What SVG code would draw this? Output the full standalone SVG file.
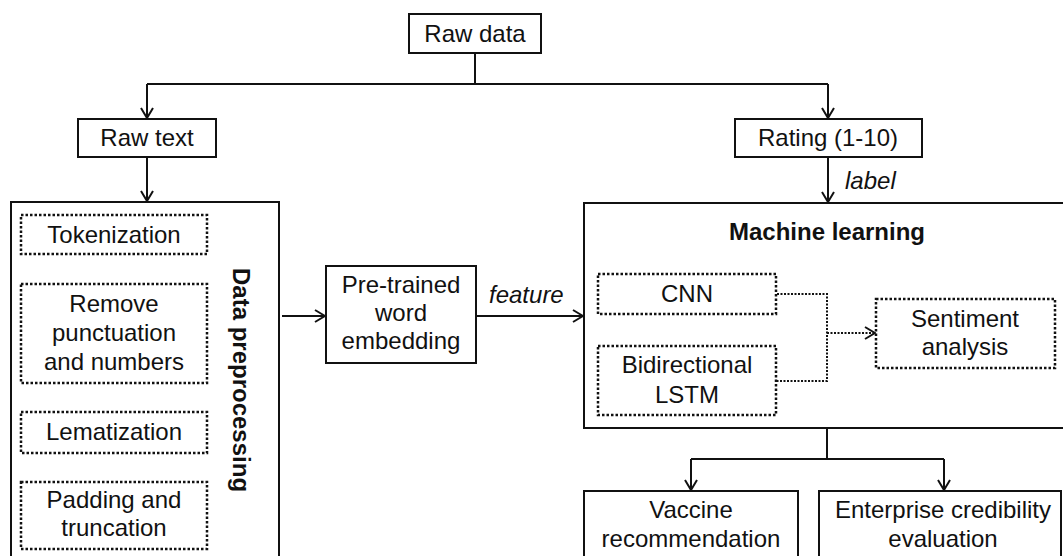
<svg xmlns="http://www.w3.org/2000/svg" width="1063" height="556" viewBox="0 0 1063 556">
  <style>
    text { font-family: "Liberation Sans", Arial, sans-serif; font-size: 24px; fill: #111; text-anchor: middle; }
    .bold { font-weight: bold; }
    .ital { font-style: italic; text-anchor: start; }
    .box { fill: #fff; stroke: #111; stroke-width: 2; }
    .dot { fill: #fff; stroke: #111; stroke-width: 2.5; stroke-dasharray: 2.5 2; }
    .link { fill: none; stroke: #111; stroke-width: 2; }
    .dlink { fill: none; stroke: #111; stroke-width: 2; stroke-dasharray: 2 1.5; }
  </style>
  <defs>
    <marker id="arrow" viewBox="0 0 12 14" refX="11" refY="7" markerWidth="12" markerHeight="14" markerUnits="userSpaceOnUse" orient="auto">
      <path d="M1,1 L11,7 L1,13" fill="none" stroke="#111" stroke-width="2"/>
    </marker>
  </defs>
  <rect width="1063" height="556" fill="#fff"/>

  <g id="raw-data">
    <rect class="box" x="409" y="14" width="132" height="39"/>
    <text x="475" y="42">Raw data</text>
  </g>
  <g id="raw-text">
    <rect class="box" x="78" y="119" width="138" height="38"/>
    <text x="147" y="146">Raw text</text>
  </g>
  <g id="rating">
    <rect class="box" x="735" y="119" width="187" height="38"/>
    <text x="828" y="146">Rating (1-10)</text>
  </g>

  <g id="data-preprocessing">
    <rect class="box" x="11" y="202" width="268" height="370"/>
    <text class="bold" transform="translate(233,380) rotate(90)">Data preprocessing</text>
  </g>
  <g id="tokenization">
    <rect class="dot" x="21" y="215" width="186" height="39"/>
    <text x="114" y="243">Tokenization</text>
  </g>
  <g id="remove-punctuation">
    <rect class="dot" x="21" y="284" width="186" height="99"/>
    <text x="114" y="312">Remove</text>
    <text x="114" y="341">punctuation</text>
    <text x="114" y="370">and numbers</text>
  </g>
  <g id="lematization">
    <rect class="dot" x="21" y="412" width="186" height="41"/>
    <text x="114" y="440">Lematization</text>
  </g>
  <g id="padding">
    <rect class="dot" x="21" y="482" width="186" height="67"/>
    <text x="114" y="508">Padding and</text>
    <text x="114" y="536">truncation</text>
  </g>

  <g id="word-embedding">
    <rect class="box" x="326" y="266" width="150" height="97"/>
    <text x="401" y="293">Pre-trained</text>
    <text x="401" y="321">word</text>
    <text x="401" y="349">embedding</text>
  </g>

  <g id="machine-learning">
    <rect class="box" x="584" y="203" width="490" height="225"/>
    <text class="bold" x="827" y="240">Machine learning</text>
  </g>
  <g id="cnn">
    <rect class="dot" x="598" y="274" width="178" height="40"/>
    <text x="687" y="302">CNN</text>
  </g>
  <g id="bilstm">
    <rect class="dot" x="598" y="346" width="178" height="69"/>
    <text x="687" y="373">Bidirectional</text>
    <text x="687" y="403">LSTM</text>
  </g>
  <g id="sentiment">
    <rect class="dot" x="876" y="299" width="179" height="69"/>
    <text x="965" y="327">Sentiment</text>
    <text x="965" y="355">analysis</text>
  </g>

  <g id="vaccine">
    <rect class="box" x="584" y="491" width="214" height="80"/>
    <text x="691" y="518">Vaccine</text>
    <text x="691" y="547">recommendation</text>
  </g>
  <g id="enterprise">
    <rect class="box" x="819" y="491" width="242" height="80"/>
    <text x="943" y="518">Enterprise credibility</text>
    <text x="943" y="547">evaluation</text>
  </g>

  <!-- connectors, drawn over the boxes -->
  <g id="connectors">
    <path class="link" d="M475,53 V84 M147,84 H828"/>
    <path class="link" d="M147,84 V118" marker-end="url(#arrow)"/>
    <path class="link" d="M828,84 V118" marker-end="url(#arrow)"/>
    <path class="link" d="M147,157 V201" marker-end="url(#arrow)"/>
    <path class="link" d="M828,157 V202" marker-end="url(#arrow)"/>
    <text class="ital" x="845" y="189">label</text>
    <path class="link" d="M282,316 H325" marker-end="url(#arrow)"/>
    <path class="link" d="M476,316 H583" marker-end="url(#arrow)"/>
    <text class="ital" x="489" y="303">feature</text>
    <path class="dlink" d="M777,294 H827 V381 H777"/>
    <path class="dlink" d="M827,333 H875" marker-end="url(#arrow)"/>
    <path class="link" d="M827,428 V459 M691,459 H944"/>
    <path class="link" d="M691,459 V490" marker-end="url(#arrow)"/>
    <path class="link" d="M944,459 V490" marker-end="url(#arrow)"/>
  </g>
</svg>
